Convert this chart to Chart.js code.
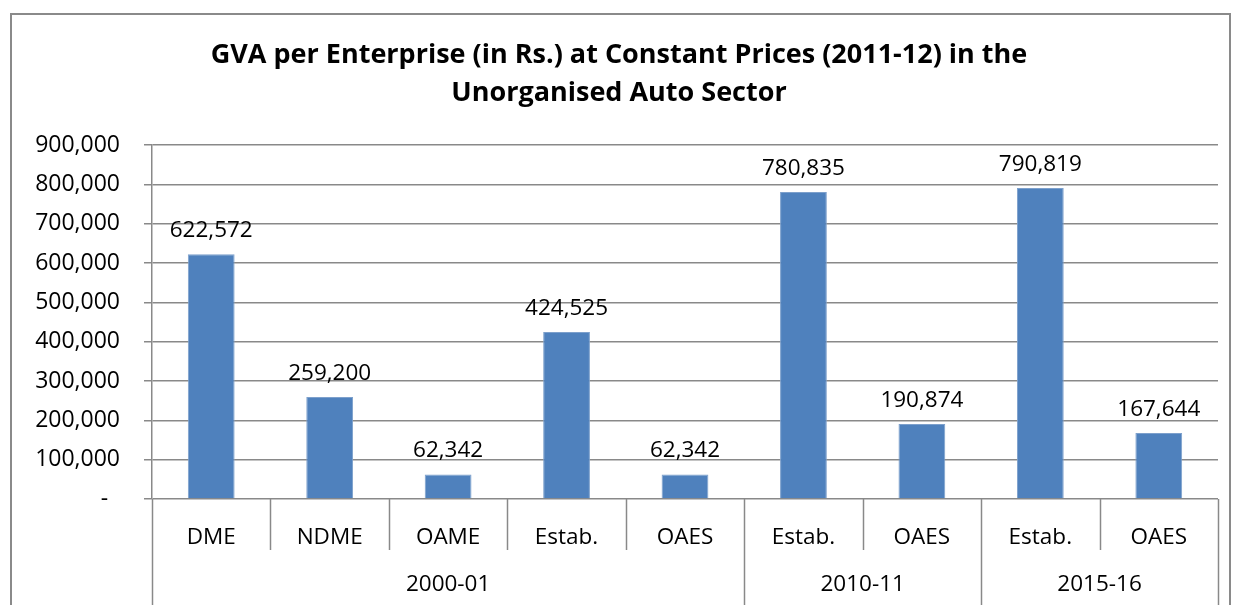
<!DOCTYPE html>
<html>
<head>
<meta charset="utf-8">
<script src="https://cdn.jsdelivr.net/npm/chart.js@4"></script>
<style>
  body { margin: 0; background: #fff; }
  canvas { display: block; }
</style>
</head>
<body>
<canvas id="gva-chart" width="1233" height="605"></canvas>
<script>
// dados
const categories = ['DME', 'NDME', 'OAME', 'Estab.', 'OAES', 'Estab.', 'OAES', 'Estab.', 'OAES'];
const gvaValues = [622572, 259200, 62342, 424525, 62342, 780835, 190874, 790819, 167644];
const groupNames = ['2000-01', '2010-11', '2015-16'];
const groupStarts = [0, 5, 7];
const groupEnds = [5, 7, 9];
const yTicks = [0, 100000, 200000, 300000, 400000, 500000, 600000, 700000, 800000, 900000];

const colors = {
    bar: '#4f81bd',
    grid: '#898989',
    text: '#000000'
};
const fontFamily = '"Open Sans", "Liberation Sans", sans-serif';

const fmt = v => v.toLocaleString('en-US');

// borda externa do gráfico
const borderPlugin = {
    id: 'outerBorder',
    beforeDraw(chart) {
        const ctx = chart.ctx;
        ctx.save();
        ctx.strokeStyle = '#8a8a8a';
        ctx.lineWidth = 2;
        ctx.strokeRect(11, 14, 1219, 700);
        ctx.restore();
    }
};

// rótulos acima das barras
const valueLabels = {
    id: 'valueLabels',
    afterDatasetsDraw(chart) {
        const ctx = chart.ctx;
        const meta = chart.getDatasetMeta(0);
        ctx.save();
        ctx.font = '22.5px ' + fontFamily;
        ctx.fillStyle = colors.text;
        ctx.textAlign = 'center';
        ctx.textBaseline = 'alphabetic';
        meta.data.forEach((bar, i) => {
            ctx.fillText(fmt(gvaValues[i]), bar.x, bar.y - 17);
        });
        ctx.restore();
    }
};

// eixo x em dois níveis
const groupAxis = {
    id: 'groupAxis',
    afterDraw(chart) {
        const ctx = chart.ctx;
        const x = chart.scales.x;
        const top = x.top;
        const bound = i => x.getPixelForValue(i - 0.5);
        ctx.save();
        ctx.strokeStyle = colors.grid;
        ctx.lineWidth = 1.5;
        for (let i = 0; i <= categories.length; i++) {
            const isGroup = groupStarts.includes(i) || i === categories.length;
            const px = Math.round(bound(i)) + 0.5;
            ctx.beginPath();
            ctx.moveTo(px, top);
            ctx.lineTo(px, isGroup ? 605 : 550);
            ctx.stroke();
        }
        ctx.font = '22.5px ' + fontFamily;
        ctx.fillStyle = colors.text;
        ctx.textAlign = 'center';
        ctx.textBaseline = 'middle';
        groupNames.forEach((name, g) => {
            const cx = (bound(groupStarts[g]) + bound(groupEnds[g])) / 2;
            ctx.fillText(name, cx, 585);
        });
        ctx.restore();
    }
};

new Chart(document.getElementById('gva-chart'), {
    type: 'bar',
    data: {
        labels: categories,
        datasets: [{
            data: gvaValues,
            backgroundColor: colors.bar,
            borderColor: '#7da0cc',
            borderWidth: 1,
            categoryPercentage: 1.0,
            barPercentage: 0.395
        }]
    },
    options: {
        responsive: false,
        animation: false,
        layout: {
            padding: { left: 20, right: 15, top: 0, bottom: 0 }
        },
        plugins: {
            legend: { display: false },
            tooltip: { enabled: false },
            title: {
                display: true,
                text: ['GVA per Enterprise (in Rs.) at Constant Prices (2011-12) in the', 'Unorganised Auto Sector'],
                color: colors.text,
                font: { family: fontFamily, size: 27, weight: 'bold', lineHeight: 1.41 },
                padding: { top: 36, bottom: 33 }
            }
        },
        scales: {
            x: {
                afterFit(scale) { scale.height = 106; },
                grid: { display: false },
                border: { display: false },
                ticks: {
                    color: colors.text,
                    font: { family: fontFamily, size: 22.5 },
                    padding: 17,
                    maxRotation: 0,
                    autoSkip: false
                }
            },
            y: {
                min: 0,
                max: 900000,
                afterFit(scale) { scale.width = 132; },
                afterBuildTicks(scale) {
                    scale.ticks = yTicks.map(v => ({ value: v }));
                },
                grid: {
                    color: colors.grid,
                    lineWidth: 1.5,
                    tickLength: 8
                },
                border: { color: colors.grid, width: 1.5 },
                ticks: {
                    color: colors.text,
                    font: { family: fontFamily, size: 23 },
                    padding: 24,
                    callback: v => v === 0 ? '-  ' : fmt(v)
                }
            }
        }
    },
    plugins: [borderPlugin, valueLabels, groupAxis]
});
</script>
</body>
</html>
